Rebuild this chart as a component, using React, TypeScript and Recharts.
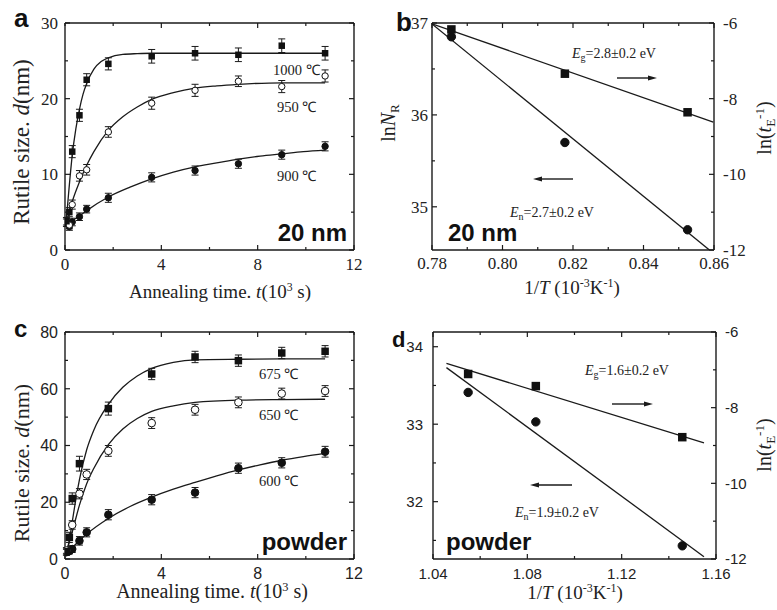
import React from 'react';
import { ComposedChart, Scatter, Line, XAxis, YAxis, ErrorBar } from 'recharts';

const SERIF = '"Liberation Serif","Times New Roman",serif';
const SANS = '"Liberation Sans",Arial,sans-serif';
const INK = '#1a1a1a';

// ---------- Panel a (20 nm, grain growth) ----------
const tA1000 = [0.06, 0.18, 0.3, 0.6, 0.9, 1.8, 3.6, 5.4, 7.2, 9.0, 10.8];
const dA1000 = [3.8, 5.0, 13.0, 17.8, 22.5, 24.6, 25.6, 26.0, 25.8, 27.0, 26.0];
const eA1000 = [0.5, 0.6, 0.8, 0.8, 0.8, 0.8, 0.9, 0.9, 0.9, 0.9, 0.9];
const tA950 = [0.18, 0.3, 0.6, 0.9, 1.8, 3.6, 5.4, 7.2, 9.0, 10.8];
const dA950 = [3.3, 6.0, 9.8, 10.6, 15.6, 19.4, 21.1, 22.3, 21.6, 23.0];
const eA950 = [0.5, 0.6, 0.7, 0.7, 0.7, 0.8, 0.8, 0.7, 0.8, 0.8];
const tA900 = [0.06, 0.18, 0.3, 0.6, 0.9, 1.8, 3.6, 5.4, 7.2, 9.0, 10.8];
const dA900 = [3.6, 3.1, 3.7, 4.4, 5.4, 6.9, 9.6, 10.5, 11.4, 12.6, 13.7];
const eA900 = [0.5, 0.5, 0.5, 0.5, 0.5, 0.6, 0.6, 0.6, 0.6, 0.6, 0.6];

const fA1000T = [0.06, 0.15, 0.3, 0.45, 0.6, 0.75, 0.9, 1.2, 1.5, 1.8, 2.4, 3.0, 3.6, 5.4, 7.2, 9.0, 10.8];
const fA1000D = [4.2, 7.5, 12.5, 16.0, 18.6, 20.6, 22.0, 23.9, 24.9, 25.4, 25.85, 25.95, 26.0, 26.0, 26.0, 26.0, 26.0];
const fA950T = [0.06, 0.3, 0.6, 0.9, 1.2, 1.8, 2.4, 3.0, 3.6, 4.5, 5.4, 6.3, 7.2, 9.0, 10.8];
const fA950D = [3.6, 6.4, 9.0, 11.2, 13.0, 15.8, 17.6, 18.9, 19.9, 20.8, 21.4, 21.7, 21.9, 22.1, 22.1];
const fA900T = [0.06, 0.3, 0.6, 0.9, 1.8, 2.7, 3.6, 4.5, 5.4, 6.3, 7.2, 8.1, 9.0, 9.9, 10.8];
const fA900D = [3.5, 3.9, 4.5, 5.2, 7.0, 8.3, 9.4, 10.3, 11.0, 11.5, 12.0, 12.4, 12.7, 13.0, 13.2];

// ---------- Panel c (powder, grain growth) ----------
const tC675 = [0.06, 0.18, 0.3, 0.6, 1.8, 3.6, 5.4, 7.2, 9.0, 10.8];
const dC675 = [2.6, 7.6, 21.3, 33.6, 53.0, 65.2, 71.2, 69.9, 72.6, 73.2];
const eC675 = [1.2, 1.8, 2.0, 2.6, 2.3, 2.0, 2.0, 2.0, 2.0, 2.0];
const tC650 = [0.06, 0.3, 0.6, 0.9, 1.8, 3.6, 5.4, 7.2, 9.0, 10.8];
const dC650 = [3.0, 12.0, 23.0, 29.8, 38.1, 47.9, 52.6, 55.2, 58.3, 59.2];
const eC650 = [1.0, 1.5, 1.8, 1.8, 1.9, 1.9, 1.9, 1.9, 1.9, 1.9];
const tC600 = [0.06, 0.18, 0.3, 0.6, 0.9, 1.8, 3.6, 5.4, 7.2, 9.0, 10.8];
const dC600 = [2.4, 2.8, 3.5, 6.4, 9.4, 15.6, 20.9, 23.4, 32.0, 33.9, 37.8];
const eC600 = [1.0, 1.0, 1.2, 1.5, 1.6, 1.8, 1.8, 1.8, 1.8, 1.8, 1.9];

const fC675T = [0.06, 0.2, 0.3, 0.45, 0.6, 0.9, 1.2, 1.8, 2.4, 3.0, 3.6, 4.5, 5.4, 7.2, 9.0, 10.8];
const fC675D = [2.0, 7.5, 13.0, 21.0, 28.0, 38.5, 45.5, 54.5, 60.5, 64.5, 67.2, 69.3, 70.2, 70.4, 70.5, 70.5];
const fC650T = [0.06, 0.3, 0.6, 0.9, 1.2, 1.8, 2.4, 3.0, 3.6, 4.5, 5.4, 7.2, 9.0, 10.8];
const fC650D = [2.5, 9.5, 19.0, 26.5, 32.0, 40.3, 45.8, 49.5, 52.0, 54.0, 55.2, 56.0, 56.2, 56.3];
const fC600T = [0.06, 0.3, 0.6, 0.9, 1.8, 2.7, 3.6, 4.5, 5.4, 6.3, 7.2, 8.1, 9.0, 9.9, 10.8];
const fC600D = [2.0, 4.0, 6.5, 8.8, 14.3, 18.5, 21.8, 24.6, 27.0, 29.3, 31.4, 33.2, 34.8, 36.1, 37.2];

// ---------- Panel b (20 nm, Arrhenius) ----------
const invTB = [0.7855, 0.8177, 0.8525];
const lnNB = [36.85, 35.70, 34.75];
const lnTEB = [-6.17, -7.34, -8.36];
const fitNBx = [0.78, 0.8587];
const fitNBy = [36.99, 34.53];
const fitGBx = [0.78, 0.8598];
const fitGBy = [-6.02, -8.62];

// ---------- Panel d (powder, Arrhenius) ----------
const invTD = [1.0549, 1.0836, 1.1457];
const lnND = [33.41, 33.03, 31.43];
const lnTED = [-7.11, -7.43, -8.78];
const fitNDx = [1.0457, 1.1549];
const fitNDy = [33.73, 31.29];
const fitGDx = [1.0457, 1.1549];
const fitGDy = [-6.83, -8.93];

// ---------- ticks ----------
const ticksT = [0, 2, 4, 6, 8, 10, 12];
const majT = [0, 4, 8, 12];
const ticksAy = [0, 5, 10, 15, 20, 25, 30];
const majAy = [0, 10, 20, 30];
const ticksCy = [0, 10, 20, 30, 40, 50, 60, 70, 80];
const majCy = [0, 20, 40, 60, 80];
const ticksBx = [0.78, 0.79, 0.8, 0.81, 0.82, 0.83, 0.84, 0.85, 0.86];
const majBx = [0.78, 0.8, 0.82, 0.84, 0.86];
const ticksBl = [35, 35.5, 36, 36.5, 37];
const majBl = [35, 36, 37];
const ticksR = [-12, -11, -10, -9, -8, -7, -6];
const majR = [-12, -10, -8, -6];
const ticksDx = [1.04, 1.06, 1.08, 1.1, 1.12, 1.14, 1.16];
const majDx = [1.04, 1.08, 1.12, 1.16];
const ticksDl = [31.5, 32, 32.5, 33, 33.5, 34];
const majDl = [32, 33, 34];

const zip = (xs: number[], ys: number[], es?: number[]) =>
  xs.map((x, i) => ({ x, y: ys[i], e: es ? es[i] : 0 }));

type Side = 'bottom' | 'top' | 'left' | 'right';
interface TickOpts {
  side: Side;
  majors: number[];
  show: boolean;
  font: string;
  size: number;
  gap: number;
  fmt?: (v: number) => string;
}

function tickFactory(o: TickOpts) {
  return (props: any) => {
    const { x, y, payload } = props;
    const v = Number(payload.value);
    const major = o.majors.some((m) => Math.abs(m - v) < 1e-6);
    const len = major ? 5 : 3;
    const label = o.fmt ? o.fmt(v) : String(v);
    const tp = { fontFamily: o.font, fontSize: o.size, fill: '#222' };
    const ls = { stroke: INK, strokeWidth: 1.2 };
    let line: any = null;
    let text: any = null;
    if (o.side === 'bottom') {
      line = <line x1={x} y1={y} x2={x} y2={y - len} {...ls} />;
      if (o.show && major) text = <text x={x} y={y + o.gap} dy="0.72em" textAnchor="middle" {...tp}>{label}</text>;
    } else if (o.side === 'top') {
      line = <line x1={x} y1={y} x2={x} y2={y + len} {...ls} />;
    } else if (o.side === 'left') {
      line = <line x1={x} y1={y} x2={x + len} y2={y} {...ls} />;
      if (o.show && major) text = <text x={x - o.gap} y={y} dy="0.36em" textAnchor="end" {...tp}>{label}</text>;
    } else {
      line = <line x1={x} y1={y} x2={x - len} y2={y} {...ls} />;
      if (o.show && major) text = <text x={x + o.gap} y={y} dy="0.36em" textAnchor="start" {...tp}>{label}</text>;
    }
    return (
      <g>
        {line}
        {text}
      </g>
    );
  };
}

const axisLine = { stroke: INK, strokeWidth: 1.4 };

function xAx(id: string, side: 'bottom' | 'top', domain: [number, number], ticks: number[], o: TickOpts, h: number) {
  return (
    <XAxis
      key={'x' + id}
      xAxisId={id}
      orientation={side}
      type="number"
      dataKey="x"
      domain={domain}
      ticks={ticks}
      interval={0}
      allowDataOverflow
      tickLine={false}
      tickSize={0}
      tickMargin={0}
      axisLine={axisLine}
      height={h}
      tick={tickFactory(o)}
    />
  );
}

function yAx(id: string, side: 'left' | 'right', domain: [number, number], ticks: number[], o: TickOpts, w: number) {
  return (
    <YAxis
      key={'y' + id}
      yAxisId={id}
      orientation={side}
      type="number"
      dataKey="y"
      domain={domain}
      ticks={ticks}
      interval={0}
      allowDataOverflow
      tickLine={false}
      tickSize={0}
      tickMargin={0}
      axisLine={axisLine}
      width={w}
      tick={tickFactory(o)}
    />
  );
}

const square = (s: number) => (p: any) => (
  <rect x={p.cx - s / 2} y={p.cy - s / 2} width={s} height={s} fill="#111" />
);
const dot = (r: number, open: boolean) => (p: any) => (
  <circle cx={p.cx} cy={p.cy} r={r} fill={open ? '#fff' : '#111'} stroke="#111" strokeWidth={1} />
);

function fitLine(data: any[], xid: string, yid: string, type: 'monotone' | 'linear', k: string) {
  return (
    <Line
      key={k}
      data={data}
      xAxisId={xid}
      yAxisId={yid}
      dataKey="y"
      type={type}
      dot={false}
      activeDot={false}
      stroke={INK}
      strokeWidth={1.3}
      isAnimationActive={false}
    />
  );
}

function pts(data: any[], xid: string, yid: string, shape: any, k: string, err: boolean) {
  return (
    <Scatter key={k} data={data} xAxisId={xid} yAxisId={yid} shape={shape} isAnimationActive={false}>
      {err ? <ErrorBar dataKey="e" direction="y" width={3.5} stroke={INK} strokeWidth={1} isAnimationActive={false} /> : null}
    </Scatter>
  );
}

const box = (l: number, t: number, w: number, h: number): React.CSSProperties => ({
  position: 'absolute',
  left: l,
  top: t,
  width: w,
  height: h,
});

function PanelA() {
  return (
    <div style={box(0, 0, 390, 300)}>
      <ComposedChart width={390} height={300} margin={{ top: 22, right: 35, bottom: 20, left: 20 }}>
        {xAx('b', 'bottom', [0, 12], ticksT, { side: 'bottom', majors: majT, show: true, font: SERIF, size: 17, gap: 8 }, 30)}
        {xAx('t', 'top', [0, 12], ticksT, { side: 'top', majors: [4, 8], show: false, font: SERIF, size: 17, gap: 0 }, 1)}
        {yAx('l', 'left', [0, 30], ticksAy, { side: 'left', majors: majAy, show: true, font: SERIF, size: 17, gap: 7 }, 45)}
        {yAx('r', 'right', [0, 30], ticksAy, { side: 'right', majors: majAy, show: false, font: SERIF, size: 17, gap: 0 }, 1)}
        {fitLine(zip(fA1000T, fA1000D), 'b', 'l', 'monotone', 'f1')}
        {fitLine(zip(fA950T, fA950D), 'b', 'l', 'monotone', 'f2')}
        {fitLine(zip(fA900T, fA900D), 'b', 'l', 'monotone', 'f3')}
        {pts(zip(tA900, dA900, eA900), 'b', 'l', dot(3.2, false), 's3', true)}
        {pts(zip(tA950, dA950, eA950), 'b', 'l', dot(3.2, true), 's2', true)}
        {pts(zip(tA1000, dA1000, eA1000), 'b', 'l', square(6.5), 's1', true)}
      </ComposedChart>
    </div>
  );
}

function PanelC() {
  return (
    <div style={box(0, 300, 390, 310)}>
      <ComposedChart width={390} height={310} margin={{ top: 31, right: 35, bottom: 21, left: 20 }}>
        {xAx('b', 'bottom', [0, 12], ticksT, { side: 'bottom', majors: majT, show: true, font: SANS, size: 16, gap: 8 }, 30)}
        {xAx('t', 'top', [0, 12], ticksT, { side: 'top', majors: [4, 8], show: false, font: SANS, size: 16, gap: 0 }, 1)}
        {yAx('l', 'left', [0, 80], ticksCy, { side: 'left', majors: majCy, show: true, font: SANS, size: 16, gap: 7 }, 45)}
        {yAx('r', 'right', [0, 80], ticksCy, { side: 'right', majors: majCy, show: false, font: SANS, size: 16, gap: 0 }, 1)}
        {fitLine(zip(fC675T, fC675D), 'b', 'l', 'monotone', 'f1')}
        {fitLine(zip(fC650T, fC650D), 'b', 'l', 'monotone', 'f2')}
        {fitLine(zip(fC600T, fC600D), 'b', 'l', 'monotone', 'f3')}
        {pts(zip(tC600, dC600, eC600), 'b', 'l', dot(3.8, false), 's3', true)}
        {pts(zip(tC650, dC650, eC650), 'b', 'l', dot(3.8, true), 's2', true)}
        {pts(zip(tC675, dC675, eC675), 'b', 'l', square(7.5), 's1', true)}
      </ComposedChart>
    </div>
  );
}

function PanelB() {
  return (
    <div style={box(390, 0, 387, 300)}>
      <ComposedChart width={387} height={300} margin={{ top: 22, right: 23, bottom: 20, left: 12 }}>
        {xAx('b', 'bottom', [0.78, 0.86], ticksBx, { side: 'bottom', majors: majBx, show: true, font: SERIF, size: 17, gap: 7, fmt: (v) => v.toFixed(2) }, 30)}
        {xAx('t', 'top', [0.78, 0.86], ticksBx, { side: 'top', majors: majBx, show: false, font: SERIF, size: 17, gap: 0 }, 1)}
        {yAx('l', 'left', [34.53, 37], ticksBl, { side: 'left', majors: majBl, show: true, font: SERIF, size: 17, gap: 4 }, 30)}
        {yAx('r', 'right', [-12, -6], ticksR, { side: 'right', majors: majR, show: true, font: SERIF, size: 17, gap: 9 }, 40)}
        {fitLine(zip(fitNBx, fitNBy), 'b', 'l', 'linear', 'f1')}
        {fitLine(zip(fitGBx, fitGBy), 'b', 'r', 'linear', 'f2')}
        {pts(zip(invTB, lnNB), 'b', 'l', dot(4.2, false), 's1', false)}
        {pts(zip(invTB, lnTEB), 'b', 'r', square(8.5), 's2', false)}
      </ComposedChart>
    </div>
  );
}

function PanelD() {
  return (
    <div style={box(390, 300, 387, 310)}>
      <ComposedChart width={387} height={310} margin={{ top: 31, right: 21, bottom: 21, left: 13 }}>
        {xAx('b', 'bottom', [1.04, 1.16], ticksDx, { side: 'bottom', majors: majDx, show: true, font: SANS, size: 15, gap: 9, fmt: (v) => v.toFixed(2) }, 30)}
        {xAx('t', 'top', [1.04, 1.16], ticksDx, { side: 'top', majors: majDx, show: false, font: SANS, size: 15, gap: 0 }, 1)}
        {yAx('l', 'left', [31.26, 34.19], ticksDl, { side: 'left', majors: majDl, show: true, font: SANS, size: 15, gap: 10 }, 30)}
        {yAx('r', 'right', [-12, -6], ticksR, { side: 'right', majors: majR, show: true, font: SANS, size: 15, gap: 9 }, 40)}
        {fitLine(zip(fitNDx, fitNDy), 'b', 'l', 'linear', 'f1')}
        {fitLine(zip(fitGDx, fitGDy), 'b', 'r', 'linear', 'f2')}
        {pts(zip(invTD, lnND), 'b', 'l', dot(4.2, false), 's1', false)}
        {pts(zip(invTD, lnTED), 'b', 'r', square(8.5), 's2', false)}
      </ComposedChart>
    </div>
  );
}

function Arrow({ x1, x2, y }: { x1: number; x2: number; y: number }) {
  const dir = x2 > x1 ? 1 : -1;
  const hl = 9;
  return (
    <g>
      <line x1={x1} y1={y} x2={x2 - dir * hl} y2={y} stroke={INK} strokeWidth={1.4} />
      <polygon points={`${x2},${y} ${x2 - dir * hl},${y - 2.6} ${x2 - dir * hl},${y + 2.6}`} fill={INK} />
    </g>
  );
}

function TimeTitle({ x, y, size }: { x: number; y: number; size: number }) {
  return (
    <text x={x} y={y} textAnchor="middle" fontFamily={SERIF} fontSize={size} fill="#222">
      Annealing time. <tspan fontStyle="italic">t</tspan>(10
      <tspan dy={-7} fontSize={size * 0.62}>3</tspan>
      <tspan dy={7}> s)</tspan>
    </text>
  );
}

function InvTTitle({ x, y }: { x: number; y: number }) {
  return (
    <text x={x} y={y} textAnchor="middle" fontFamily={SERIF} fontSize={19} fill="#222">
      1/<tspan fontStyle="italic">T</tspan> (10
      <tspan dy={-7} fontSize={12}>-3</tspan>
      <tspan dy={7}>K</tspan>
      <tspan dy={-7} fontSize={12}>-1</tspan>
      <tspan dy={7}>)</tspan>
    </text>
  );
}

function SizeTitle({ x, y, size }: { x: number; y: number; size: number }) {
  return (
    <text transform={`translate(${x},${y}) rotate(-90)`} textAnchor="middle" fontFamily={SERIF} fontSize={size} fill="#222">
      Rutile size. <tspan fontStyle="italic">d</tspan>(nm)
    </text>
  );
}

function LnNTitle({ x, y }: { x: number; y: number }) {
  return (
    <text transform={`translate(${x},${y}) rotate(-90)`} textAnchor="middle" fontFamily={SERIF} fontSize={20} fill="#222">
      ln<tspan fontStyle="italic">N</tspan>
      <tspan dy={4} fontSize={13}>R</tspan>
    </text>
  );
}

function LnTTitle({ x, y }: { x: number; y: number }) {
  return (
    <text transform={`translate(${x},${y}) rotate(-90)`} textAnchor="middle" fontFamily={SERIF} fontSize={20} fill="#222">
      ln(<tspan fontStyle="italic">t</tspan>
      <tspan dy={4} fontSize={13}>E</tspan>
      <tspan dy={-11} fontSize={13}>-1</tspan>
      <tspan dy={7}>)</tspan>
    </text>
  );
}

function ELabel({ x, y, sub, val }: { x: number; y: number; sub: string; val: string }) {
  return (
    <text x={x} y={y} fontFamily={SERIF} fontSize={14} fill="#222">
      <tspan fontStyle="italic">E</tspan>
      <tspan dy={3} fontSize={10}>{sub}</tspan>
      <tspan dy={-3}>{val}</tspan>
    </text>
  );
}

function Overlay() {
  const serifT = { fontFamily: SERIF, fontSize: 14.5, fill: '#222' };
  const bold = { fontFamily: SANS, fontWeight: 700, fill: '#111' };
  return (
    <svg width={777} height={610} style={{ position: 'absolute', left: 0, top: 0, pointerEvents: 'none' }}>
      {/* panel letters */}
      <text x={14} y={27} fontSize={26} {...bold}>a</text>
      <text x={396} y={31} fontSize={26} {...bold}>b</text>
      <text x={14} y={337} fontSize={24} {...bold}>c</text>
      <text x={392} y={347} fontSize={22} {...bold}>d</text>

      {/* sample labels */}
      <text x={347} y={241} textAnchor="end" fontSize={24} {...bold}>20 nm</text>
      <text x={448} y={241} fontSize={24} {...bold}>20 nm</text>
      <text x={347} y={550} textAnchor="end" fontSize={24} {...bold}>powder</text>
      <text x={446} y={550} fontSize={24} {...bold}>powder</text>

      {/* temperature labels */}
      <text x={273} y={75} {...serifT}>1000 ℃</text>
      <text x={277} y={112} {...serifT}>950 ℃</text>
      <text x={277} y={181} {...serifT}>900 ℃</text>
      <text x={259} y={379} {...serifT}>675 ℃</text>
      <text x={259} y={420} {...serifT}>650 ℃</text>
      <text x={259} y={486} {...serifT}>600 ℃</text>

      {/* activation energies */}
      <ELabel x={572} y={58} sub="g" val="=2.8±0.2 eV" />
      <ELabel x={510} y={217} sub="n" val="=2.7±0.2 eV" />
      <ELabel x={585} y={375} sub="g" val="=1.6±0.2 eV" />
      <ELabel x={515} y={517} sub="n" val="=1.9±0.2 eV" />

      <Arrow x1={617} x2={657} y={78} />
      <Arrow x1={573} x2={533} y={179} />
      <Arrow x1={612} x2={653} y={404} />
      <Arrow x1={572} x2={530} y={485} />

      {/* axis titles */}
      <TimeTitle x={220} y={298} size={19} />
      <TimeTitle x={212} y={598} size={20} />
      <SizeTitle x={29} y={142} size={23} />
      <SizeTitle x={29} y={463} size={22} />
      <InvTTitle x={572} y={294} />
      <InvTTitle x={575} y={599} />
      <LnNTitle x={395} y={123} />
      <LnTTitle x={771} y={128} />
      <LnTTitle x={771} y={445} />
    </svg>
  );
}

export default function App() {
  return (
    <div style={{ position: 'absolute', left: 0, top: 0, width: 777, height: 610, background: '#fff', overflow: 'hidden' }}>
      <PanelA />
      <PanelB />
      <PanelC />
      <PanelD />
      <Overlay />
    </div>
  );
}
